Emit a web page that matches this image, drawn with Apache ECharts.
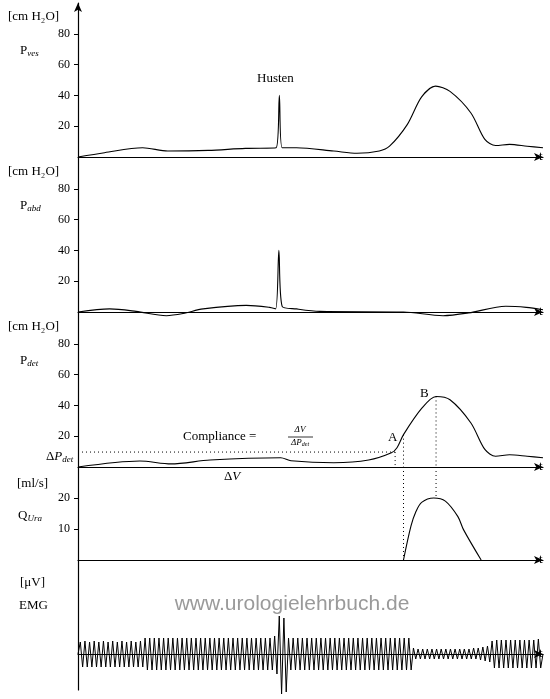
<!DOCTYPE html>
<html><head><meta charset="utf-8">
<script src="https://cdn.jsdelivr.net/npm/echarts@6/dist/echarts.min.js"></script>
<style>html,body{margin:0;padding:0;background:#fff}#c{width:550px;height:699px}</style>
</head><body><div id="c"></div>
<script>
// ---- data (t in arbitrary time units 0..100) ----
const pvesT = [0,5.7,13.9,19.3,28,36,42.6,43.3,43.9,47,55,60,64.8,67,70.8,73.9,76.9,80,84.5,87.5,89.8,92.8,96.6,100];
const pvesV = [0,2.8,6,3.9,4.3,5.6,6,40,6,6,3.9,2.4,3.9,7,21,39,46,42.6,28.6,11.4,7.5,8.2,7,6];
const pabdT = [0,6.8,12.5,19,22.6,26.9,36.2,41.2,42.5,43.2,43.9,47,52,70,78.5,84,92,96.4,100];
const pabdV = [0,2,0.4,-2.4,-1,2,4.3,3,2,40,3.7,2,0.4,0,-2.4,-0.6,3.7,3,1.5];
const pdetT = [0,13.3,20,28.4,43.6,45.8,55,62.5,67.4,68.6,70,73.9,77,80,84.5,87.5,89.8,92.8,96.6,100];
const pdetV = [0,3.9,2,4.5,6,4.1,2.8,4.5,9.2,12.5,21,38,45.8,43.7,28.6,11.4,7,8,7,6];
const qT = [70,71.6,72.7,73.9,76.5,79,81.7,82.9,86.7];
const qV = [0,10.9,15.7,18.6,20,19,14,9.8,0];
const emgV = [
 0,
 12,-13,13,-13,12,-13,13,-13,12,-13,13,-13,12,-13,13,-13,12,-13,13,-13,12,-13,13,-13,12,-13,13,-13,
 16,-16,16,-16,16,-16,16,-16,16,-16,16,-16,16,-16,16,-16,16,-16,16,-16,16,-16,16,-16,16,-16,16,-16,
 16,-16,16,-16,16,-16,16,-16,16,-16,16,-16,16,-16,16,-16,16,-16,16,-16,16,-16,16,-16,16,-16,16,-16,
 18,-20,38,-40,36,-38,16,-16,
 16,-16,16,-16,16,-16,16,-16,16,-16,16,-16,16,-16,16,-16,16,-16,16,-16,16,-16,16,-16,16,-16,
 16,-16,16,-16,16,-16,16,-16,16,-16,16,-16,16,-16,16,-16,16,-16,16,-16,16,-16,16,-16,16,-16,
 6,-5,5,-5,5,-5,5,-5,5,-5,5,-5,5,-5,5,-5,5,-5,5,-5,5,-5,5,-5,5,-5,6,-5,6,-6,7,-7,8,-8,
 13,-14,14,-14,14,-14,14,-14,14,-14,14,-14,14,-14,14,-14,14,-14,14,-14,15,-14,
 0
];
const emgStep = 100/(emgV.length-1);
const complianceLine = [[0,9.7],[68.2,9.7]];
const deltaPLine = [[68.2,9.7],[68.2,0]];
const pointA = [70,21];
const pointB = [77,45.8];
const qPeakAtB = 20;
const pressureTicks = [20,40,60,80];
const flowTicks = [10,20];

const zip = (a,b)=>a.map((t,i)=>[t,b[i]]);
const serif = 'Liberation Serif';
const L = 78, R = 7;
const grids = [
  {left:L,right:R,top:3,height:154},
  {left:L,right:R,top:158,height:154},
  {left:L,right:R,top:313,height:154},
  {left:L,right:R,top:467,height:93},
  {left:L,right:R,top:560,height:130}
];
const xAxes = grids.map((g,i)=>({
  type:'value',gridIndex:i,min:0,max:100,
  axisLine:{show:true,onZero:true,symbol:['none','arrow'],symbolSize:[6,9],lineStyle:{color:'#000',width:1.2}},
  axisTick:{show:false},axisLabel:{show:false},splitLine:{show:false},
  name:'t',nameLocation:'end',nameGap:-4,
  nameTextStyle:{fontFamily:serif,fontSize:13,color:'#000',padding:[24,0,0,0]}
}));
function yA(i,min,max,ticks,arrow){
  return {type:'value',gridIndex:i,min:min,max:max,
    axisLine:{show:true,onZero:false,symbol:arrow?['none','arrow']:['none','none'],symbolSize:[6,9],lineStyle:{color:'#000',width:1.2}},
    axisTick:{show:!!ticks,length:4,customValues:ticks||[],lineStyle:{color:'#000'}},
    axisLabel:{show:!!ticks,customValues:ticks||[],fontFamily:serif,fontSize:12,color:'#000',margin:8},
    splitLine:{show:false}};
}
const yAxes=[yA(0,0,100,pressureTicks,true),yA(1,0,100,pressureTicks),yA(2,0,100,pressureTicks),yA(3,0,30,flowTicks),yA(4,-36,94,null)];
const ls = {color:'#000',width:1.1};
const dot = {color:'#000',width:1,type:[1,3]};
function line(i,data,style,smooth){return {type:'line',xAxisIndex:i,yAxisIndex:i,data:data,showSymbol:false,symbol:'none',smooth:smooth||0,clip:false,lineStyle:style,silent:true,animation:false};}
const series=[
  line(0,zip(pvesT,pvesV),ls,0.3),
  line(1,zip(pabdT,pabdV),ls,0.3),
  line(2,zip(pdetT,pdetV),ls,0.3),
  line(3,zip(qT,qV),ls,0.3),
  line(4,emgV.map((v,k)=>[k*emgStep,v]),{color:'#000',width:1}),
  line(2,complianceLine,dot),
  line(2,deltaPLine,dot),
  line(2,[pointA,[pointA[0],0]],dot),
  line(3,[[pointA[0],30],[pointA[0],0]],dot),
  line(2,[pointB,[pointB[0],0]],dot),
  line(3,[[pointB[0],30],[pointB[0],qPeakAtB]],dot)
];
const T=(x,y,text,extra)=>({type:'text',x:x,y:y,style:Object.assign({text:text,font:'13px '+serif,fill:'#000'},extra||{})});
const subRich={a:{fontFamily:serif,fontSize:13,color:'#000'},s:{fontFamily:serif,fontSize:9,fontStyle:'italic',color:'#000',padding:[5,0,0,0]},i:{fontFamily:serif,fontSize:13,fontStyle:'italic',color:'#000'},
  fa:{fontFamily:serif,fontSize:9,fontStyle:'italic',color:'#000'},fs:{fontFamily:serif,fontSize:6,fontStyle:'italic',color:'#000',padding:[3,0,0,0]}};
function R2(x,y,text,align){return {type:'text',x:x,y:y,style:{text:text,rich:subRich,align:align||'left',fill:'#000'}};}
const graphic=[
  T(8,10,'[cm H₂O]'),T(8,165,'[cm H₂O]'),T(8,320,'[cm H₂O]'),T(17,477,'[ml/s]'),T(20,576,'[μV]'),T(19,599,'EMG'),
  R2(20,44,'{a|P}{s|ves}'),R2(20,199,'{a|P}{s|abd}'),R2(20,354,'{a|P}{s|det}'),R2(18,509,'{a|Q}{s|Ura}'),
  T(257,72,'Husten'),
  T(183,430,'Compliance ='),
  {type:'text',x:300,y:425,style:{text:'ΔV',font:'italic 9px '+serif,fill:'#000',align:'center'}},
  {type:'line',shape:{x1:288,y1:437,x2:313,y2:437},style:{stroke:'#000',lineWidth:0.8}},
  R2(300,438,'{fa|ΔP}{fs|det}','center'),
  R2(46,450,'{a|Δ}{i|P}{s|det}'),
  R2(224,470,'{a|Δ}{i|V}'),
  T(388,431,'A'),T(420,387,'B'),
  {type:'text',x:292,y:594,style:{text:'www.urologielehrbuch.de',font:'21px "Liberation Sans"',fill:'#9a9a9a',align:'center'}}
];
const chart=echarts.init(document.getElementById('c'),null,{renderer:'canvas'});
chart.setOption({animation:false,grid:grids,xAxis:xAxes,yAxis:yAxes,series:series,graphic:graphic});
</script></body></html>
